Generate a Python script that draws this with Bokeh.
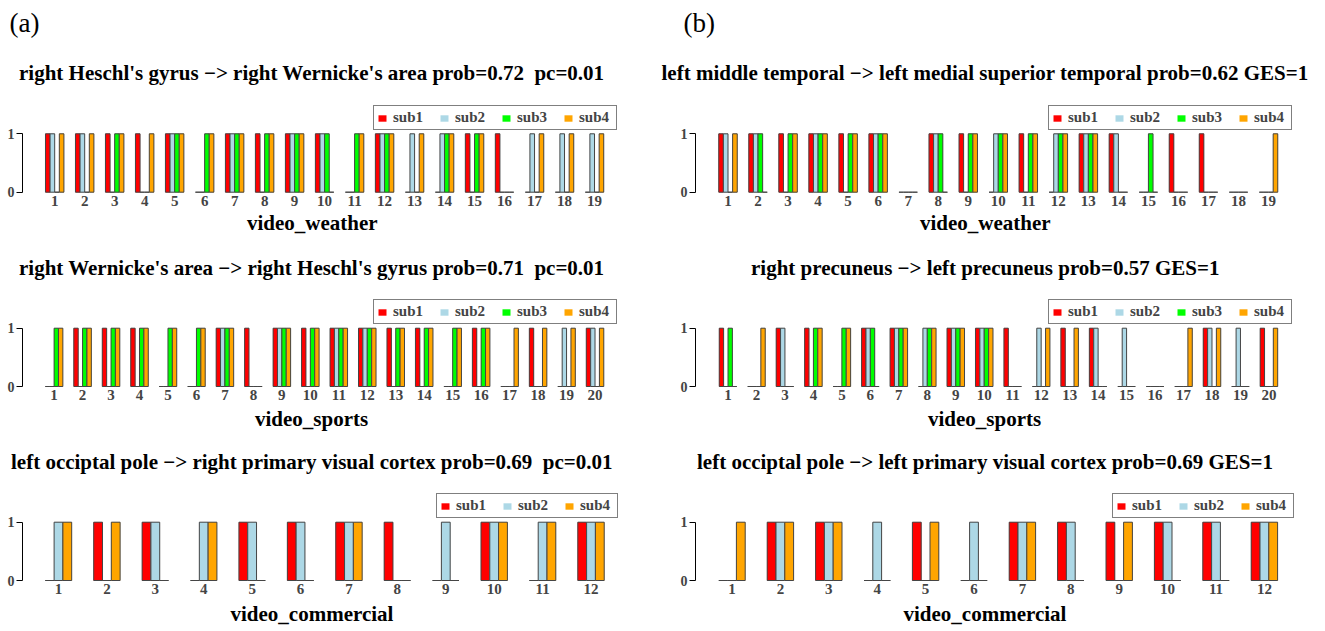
from bokeh.plotting import figure
from bokeh.models import Range1d, FixedTicker, Legend, LegendItem, Title
from bokeh.layouts import row, column
from bokeh.embed import file_html
from bokeh.resources import INLINE

# ---------------- data ----------------
subjects = ["sub1", "sub2", "sub3", "sub4"]
sub_colors = {"sub1": "#FF0000", "sub2": "#ADD8E6", "sub3": "#00FF00", "sub4": "#FFA500"}

# (a) top : video_weather
a_weather_title = "right Heschl's gyrus \u2212> right Wernicke's area prob=0.72\u00a0 pc=0.01"
a_weather_sub1 = [1, 1, 1, 1, 1, 0, 1, 1, 1, 1, 0, 1, 0, 0, 1, 1, 0, 0, 0]
a_weather_sub2 = [1, 1, 0, 0, 1, 0, 1, 0, 1, 1, 0, 1, 1, 1, 0, 0, 1, 1, 1]
a_weather_sub3 = [0, 0, 1, 0, 1, 1, 1, 1, 1, 1, 1, 1, 0, 1, 1, 0, 0, 0, 0]
a_weather_sub4 = [1, 1, 1, 1, 1, 1, 1, 1, 1, 0, 1, 1, 1, 1, 1, 0, 1, 1, 1]

# (a) middle : video_sports
a_sports_title = "right Wernicke's area \u2212> right Heschl's gyrus prob=0.71\u00a0 pc=0.01"
a_sports_sub1 = [0, 1, 1, 1, 0, 0, 1, 1, 1, 1, 1, 1, 1, 1, 0, 1, 0, 1, 0, 1]
a_sports_sub2 = [0, 0, 0, 0, 0, 0, 1, 0, 1, 0, 1, 1, 0, 0, 0, 0, 0, 0, 1, 1]
a_sports_sub3 = [1, 1, 1, 1, 1, 1, 1, 0, 1, 1, 1, 1, 1, 1, 1, 1, 0, 0, 0, 0]
a_sports_sub4 = [1, 1, 1, 1, 1, 1, 1, 0, 1, 1, 1, 1, 1, 1, 1, 1, 1, 1, 1, 1]

# (a) bottom : video_commercial
a_comm_title = "left occiptal pole \u2212> right primary visual cortex prob=0.69\u00a0 pc=0.01"
a_comm_sub1 = [0, 1, 1, 0, 1, 1, 1, 1, 0, 1, 0, 1]
a_comm_sub2 = [1, 0, 1, 1, 1, 1, 1, 0, 1, 1, 1, 1]
a_comm_sub4 = [1, 1, 0, 1, 0, 0, 1, 0, 0, 1, 1, 1]

# (b) top : video_weather
b_weather_title = "left middle temporal \u2212> left medial superior temporal prob=0.62 GES=1"
b_weather_sub1 = [1, 1, 1, 1, 1, 1, 0, 1, 1, 0, 1, 0, 1, 1, 0, 1, 1, 0, 0]
b_weather_sub2 = [1, 1, 0, 1, 0, 1, 0, 1, 0, 1, 0, 1, 1, 1, 0, 0, 0, 0, 0]
b_weather_sub3 = [0, 1, 1, 1, 1, 1, 0, 1, 1, 1, 1, 1, 1, 0, 1, 0, 0, 0, 0]
b_weather_sub4 = [1, 0, 1, 1, 1, 1, 0, 0, 1, 1, 1, 1, 1, 0, 0, 0, 0, 0, 1]

# (b) middle : video_sports
b_sports_title = "right precuneus \u2212> left precuneus prob=0.57 GES=1"
b_sports_sub1 = [1, 0, 1, 1, 0, 1, 1, 0, 1, 1, 1, 0, 1, 1, 0, 0, 0, 1, 0, 1]
b_sports_sub2 = [0, 0, 1, 0, 0, 1, 1, 1, 1, 1, 0, 1, 0, 1, 1, 0, 0, 1, 1, 0]
b_sports_sub3 = [1, 0, 0, 1, 1, 1, 1, 1, 1, 1, 0, 0, 0, 0, 0, 0, 0, 0, 0, 0]
b_sports_sub4 = [0, 1, 0, 1, 1, 0, 1, 1, 1, 1, 0, 1, 1, 0, 0, 0, 1, 1, 0, 1]

# (b) bottom : video_commercial
b_comm_title = "left occiptal pole \u2212> left primary visual cortex prob=0.69 GES=1"
b_comm_sub1 = [0, 1, 1, 0, 1, 0, 1, 1, 1, 1, 1, 1]
b_comm_sub2 = [0, 1, 1, 1, 0, 1, 1, 1, 0, 1, 1, 1]
b_comm_sub4 = [1, 1, 1, 0, 1, 0, 1, 0, 1, 0, 0, 1]

x_titles = ["video_weather", "video_sports", "video_commercial"]
panel_tags = ["(a)", "(b)"]

# ---------------- style / layout ----------------
FONT = "Liberation Serif"
EDGE = "#454545"
GAP = 2.5  # space between groups, in bar widths
TITLE_W = {a_weather_title: 585, a_sports_title: 585, a_comm_title: 601,
           b_weather_title: 646, b_sports_title: 467, b_comm_title: 575}
XLAB_W = {"video_weather": 129, "video_sports": 113, "video_commercial": 162}


def make_panel(title, xlabel, series, fig_w, fig_h, T, B, y0, k, c1, u, L, R, center,
               legend_x, title_standoff, xlab_standoff, tag=None, tag_offset=-13):
    n = len(series)
    G = len(series[0][1])
    bw = 1.0 / (n + GAP)
    x_start = 1 - (c1 - L) / u
    x_end = x_start + (R - L) / u
    y_start = -(B - y0) / k
    y_end = (y0 - T) / k
    p = figure(width=fig_w, height=fig_h, output_backend="svg", toolbar_location=None, tools="",
               title=None,
               x_range=Range1d(x_start, x_end), y_range=Range1d(y_start, y_end),
               min_border_left=int(L), min_border_right=int(fig_w - R), min_border_top=int(T),
               min_border_bottom=int(fig_h - B))
    p.outline_line_color = None
    p.xgrid.visible = False
    p.ygrid.visible = False
    p.background_fill_color = "white"
    p.border_fill_color = "white"

    items = []
    for j, (name, vals) in enumerate(series):
        xs = [g + 1 + (j - (n - 1) / 2) * bw for g in range(G)]
        key = p.vbar(x=xs, top=vals, bottom=0, width=bw, fill_color=sub_colors[name],
                     line_color=None)
        p.vbar(x=xs, top=vals, bottom=0, width=bw, fill_color=sub_colors[name],
               line_color=EDGE, line_width=1)
        items.append(LegendItem(label=name, renderers=[key]))

    legend = Legend(items=items, location=(legend_x, 63), orientation="horizontal",
                    glyph_width=10, glyph_height=8, label_standoff=6, label_width=34,
                    label_height=15, spacing=12, padding=3, margin=0,
                    border_line_color="black", border_line_width=1,
                    label_text_font=FONT, label_text_font_style="bold",
                    label_text_font_size="15px", background_fill_color="white",
                    background_fill_alpha=1.0)
    p.add_layout(legend)

    # main title (closest to the frame), then the panel tag above it
    p.add_layout(Title(text=title, align="left", offset=center - TITLE_W[title] / 2 - L,
                       standoff=title_standoff,
                       text_font=FONT, text_font_style="bold", text_font_size="21px",
                       text_color="black"), "above")
    if tag is not None:
        p.add_layout(Title(text=tag, align="left", offset=tag_offset, standoff=11,
                           text_font=FONT, text_font_style="normal",
                           text_font_size="27px", text_color="black"), "above")

    ya = p.yaxis[0]
    ya.ticker = FixedTicker(ticks=[0, 1])
    ya.bounds = (0, 1)
    ya.major_tick_out = 6
    ya.major_tick_in = 0
    ya.minor_tick_out = 0
    ya.minor_tick_in = 0
    ya.axis_line_color = "black"
    ya.major_tick_line_color = "black"
    ya.major_label_standoff = 2
    ya.major_label_text_font = FONT
    ya.major_label_text_font_style = "bold"
    ya.major_label_text_font_size = "14px"

    xa = p.xaxis[0]
    xa.ticker = FixedTicker(ticks=list(range(1, G + 1)))
    xa.axis_line_color = None
    xa.major_tick_line_color = None
    xa.minor_tick_line_color = None
    xa.major_tick_out = 0
    xa.major_tick_in = 0
    xa.major_label_standoff = 2
    xa.major_label_text_font = FONT
    xa.major_label_text_font_style = "bold"
    xa.major_label_text_font_size = "15px"

    p.add_layout(Title(text=xlabel, align="left", offset=center - XLAB_W[xlabel] / 2 - L,
                       standoff=xlab_standoff,
                       text_font=FONT, text_font_style="bold", text_font_size="21px",
                       text_color="black"), "below")
    return p


AW, BW = 640, 685
LA, RA, CA = 22, 620, 311     # panel (a): frame left/right, text centre
LB, RB, CB = 55, 656, 344     # panel (b)

a1 = make_panel(a_weather_title, x_titles[0],
                [("sub1", a_weather_sub1), ("sub2", a_weather_sub2), ("sub3", a_weather_sub3), ("sub4", a_weather_sub4)],
                AW, 240, 99, 193, 191.7, 58.4, 54.2, 29.99, LA, RA, CA, 351, 30, 0,
                tag=panel_tags[0], tag_offset=-13)
b1 = make_panel(b_weather_title, x_titles[0],
                [("sub1", b_weather_sub1), ("sub2", b_weather_sub2), ("sub3", b_weather_sub3), ("sub4", b_weather_sub4)],
                BW, 240, 99, 193, 191.7, 58.4, 727.5 - AW, 30.03, LB, RB, CB, 353, 30, 0,
                tag=panel_tags[1], tag_offset=-12)
a2 = make_panel(a_sports_title, x_titles[1],
                [("sub1", a_sports_sub1), ("sub2", a_sports_sub2), ("sub3", a_sports_sub3), ("sub4", a_sports_sub4)],
                AW, 195, 44, 147, 146, 58.3, 53.6, 28.47, LA, RA, CA, 351, 10, 5)
b2 = make_panel(b_sports_title, x_titles[1],
                [("sub1", b_sports_sub1), ("sub2", b_sports_sub2), ("sub3", b_sports_sub3), ("sub4", b_sports_sub4)],
                BW, 195, 44, 147, 146, 58.3, 727.5 - AW, 28.47, LB, RB, CB, 353, 10, 5)
a3 = make_panel(a_comm_title, x_titles[2],
                [("sub1", a_comm_sub1), ("sub2", a_comm_sub2), ("sub4", a_comm_sub4)],
                AW, 196, 43, 146, 145, 58.3, 58.0, 48.41, LA, RA, CA, 414, 10, 6)
b3 = make_panel(b_comm_title, x_titles[2],
                [("sub1", b_comm_sub1), ("sub2", b_comm_sub2), ("sub4", b_comm_sub4)],
                BW, 196, 43, 146, 145, 58.3, 731.5 - AW, 48.4, LB, RB, CB, 417, 10, 6)

layout = column(row(a1, b1), row(a2, b2), row(a3, b3))
open("out.html", "w").write(file_html(layout, INLINE))
